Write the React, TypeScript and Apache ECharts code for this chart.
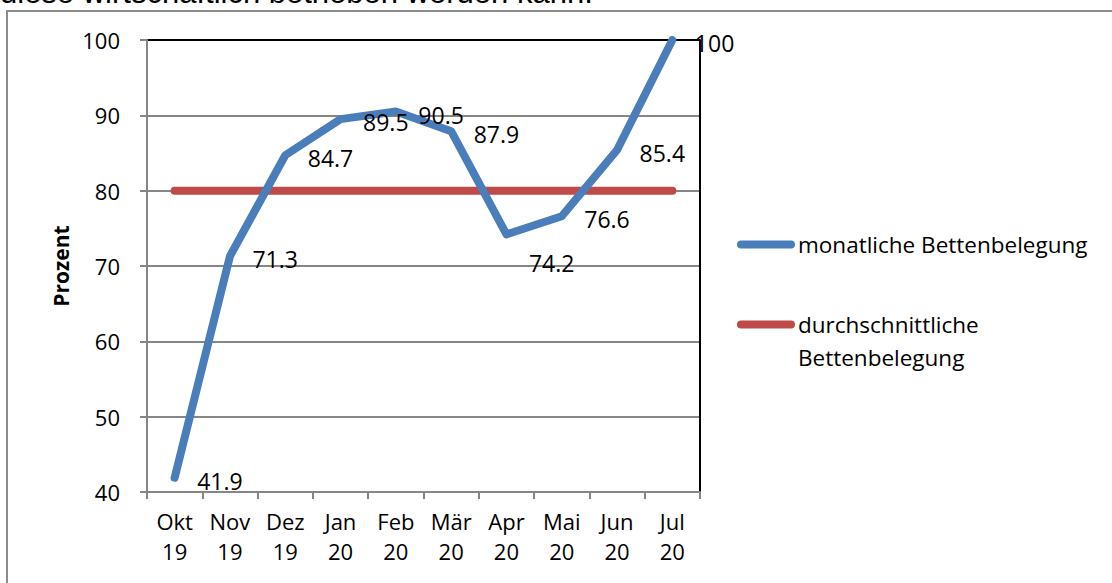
import React, { useEffect, useRef } from "react";
import * as echarts from "echarts";

const categories = ["Okt\n19", "Nov\n19", "Dez\n19", "Jan\n20", "Feb\n20", "Mär\n20", "Apr\n20", "Mai\n20", "Jun\n20", "Jul\n20"];
const monthly = [41.9, 71.3, 84.7, 89.5, 90.5, 87.9, 74.2, 76.6, 85.4, 100];
const average = [80, 80, 80, 80, 80, 80, 80, 80, 80, 80];
const yTicks = { min: 40, max: 100, interval: 10 };
const seriesNames = ["monatliche Bettenbelegung", "durchschnittliche Bettenbelegung"];
const headerText = "diese wirtschaftlich betrieben werden kann.";

const FONT = "Open Sans";
const pill = "path://M4,0 L54,0 A4,4 0 0 1 54,8 L4,8 A4,4 0 0 1 4,0 Z";

export default function App() {
  const ref = useRef<HTMLDivElement>(null);
  useEffect(() => {
    if (!ref.current) return;
    const chart = echarts.init(ref.current, undefined, { renderer: "svg" });
    const option = {
      animation: false,
      backgroundColor: "#ffffff",
      textStyle: { fontFamily: FONT },
      grid: { left: 147, right: 412, top: 40, bottom: 91 },
      legend: [
        {
          data: [seriesNames[0]],
          orient: "vertical",
          left: 732,
          top: 228,
          itemWidth: 58,
          itemHeight: 8,
          itemGap: 0,
          icon: pill,
          textStyle: { fontFamily: FONT, fontSize: 22.5, color: "#000", padding: [0, 0, 0, -2] },
        },
        {
          data: [seriesNames[1]],
          orient: "vertical",
          left: 732,
          top: 270,
          itemWidth: 58,
          itemHeight: 8,
          itemGap: 0,
          icon: pill,
          formatter: () => " \ndurchschnittliche\nBettenbelegung",
          textStyle: { fontFamily: FONT, fontSize: 22.5, color: "#000", lineHeight: 33, padding: [0, 0, 0, -2] },
        },
      ],
      xAxis: {
        type: "category",
        data: categories,
        boundaryGap: true,
        axisLine: { lineStyle: { color: "#868686", width: 2 } },
        axisTick: { show: true, length: 7, lineStyle: { color: "#868686", width: 2 } },
        axisLabel: { color: "#000", fontFamily: FONT, fontSize: 22, lineHeight: 30, margin: 14, interval: 0 },
      },
      yAxis: [
        {
          type: "value",
          min: yTicks.min,
          max: yTicks.max,
          interval: yTicks.interval,
          name: "Prozent",
          nameLocation: "middle",
          nameGap: 76,
          nameTextStyle: { fontFamily: FONT, fontSize: 21, fontWeight: "bold", color: "#000" },
          axisLine: { show: true, lineStyle: { color: "#868686", width: 2 } },
          axisTick: { show: true, length: 7, lineStyle: { color: "#868686", width: 2 } },
          axisLabel: { color: "#000", fontFamily: FONT, fontSize: 22, margin: 27 },
          splitLine: {
            show: true,
            lineStyle: { color: ["#868686", "#868686", "#868686", "#868686", "#868686", "#868686", "#000000"], width: 2 },
          },
        },
        {
          type: "value",
          position: "right",
          min: yTicks.min,
          max: yTicks.max,
          interval: yTicks.interval,
          axisLine: { show: true, lineStyle: { color: "#000", width: 2 } },
          axisTick: { show: false },
          axisLabel: { show: false },
          splitLine: { show: false },
        },
      ],
      series: [
        {
          name: seriesNames[0],
          type: "line",
          data: monthly.map((v, i) =>
            i === 6 ? { value: v, label: { offset: [22, 29] } } : v
          ),
          symbol: "circle",
          symbolSize: 1,
          showSymbol: true,
          color: "#4A7EBB",
          itemStyle: { color: "#4A7EBB" },
          lineStyle: { width: 8, color: "#4A7EBB", cap: "round", join: "round" },
          label: {
            show: true,
            position: "right",
            distance: 0,
            offset: [22, 3],
            color: "#000",
            fontFamily: FONT,
            fontSize: 23,
          },
          z: 3,
        },
        {
          name: seriesNames[1],
          type: "line",
          data: average,
          symbol: "none",
          color: "#BE4B48",
          lineStyle: { width: 8, color: "#BE4B48", cap: "round", join: "round" },
          z: 2,
        },
      ],
      graphic: [
        {
          type: "rect",
          shape: { x: 7, y: 11, width: 1200, height: 700 },
          style: { fill: "none", stroke: "#8c8c8c", lineWidth: 2 },
          silent: true,
        },
        {
          type: "text",
          x: 0,
          y: 8,
          style: {
            text: headerText,
            font: "31px 'Liberation Sans'",
            fill: "#000",
            verticalAlign: "bottom",
          },
          silent: true,
        },
      ],
    };
    chart.setOption(option);
    return () => chart.dispose();
  }, []);
  return <div ref={ref} style={{ position: "fixed", left: 0, top: 0, width: 1112, height: 583 }} />;
}
